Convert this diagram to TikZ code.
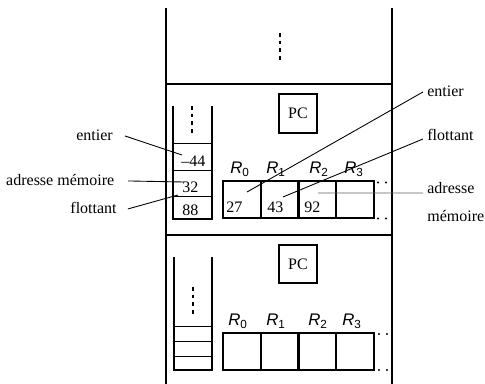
\documentclass[tikz,border=0pt]{standalone}
\usepackage{fontspec}
\setmainfont{Liberation Serif}
\setsansfont{Liberation Sans}
\begin{document}
\begin{tikzpicture}[x=0.625pt,y=-0.625pt,
  wall/.style={line width=1.4pt},
  thinline/.style={line width=0.6pt},
  cell/.style={draw, line width=1.4pt, minimum width=23.6pt, minimum height=23.1pt, inner sep=0pt, outer sep=0pt},
  pcbox/.style={draw, line width=1.4pt, minimum width=23.75pt, minimum height=24pt, inner sep=0pt, font=\fontsize{10}{12}\selectfont},
  txt/.style={font=\fontsize{10}{12}\selectfont, inner sep=0pt},
  reg/.style={font=\sffamily\fontsize{10.5}{12}\selectfont, inner sep=0pt},
  vdot/.style={line width=1.6pt, dash pattern=on 2.3pt off 2.5pt},
  ptr/.style={line width=0.55pt},
  dotmark/.style={circle, fill, inner sep=0pt, minimum size=1.3pt}
]
\useasboundingbox (0,0) rectangle (485,384);
% outer frame
\coordinate (tl) at (166,8);
\coordinate (bl) at (166,384);
\coordinate (tr) at (392,8);
\coordinate (br) at (392,384);
\coordinate (h1l) at (166,84);
\coordinate (h1r) at (392,84);
\coordinate (h2l) at (166,235);
\coordinate (h2r) at (392,235);
\draw[wall] (tl) -- (bl);
\draw[wall] (tr) -- (br);
\draw[wall] (h1l) -- (h1r);
\draw[wall] (h2l) -- (h2r);
\coordinate (d0a) at (280,33);
\coordinate (d0b) at (280,61);
\draw[vdot] (d0a) -- (d0b);

% ---------- block 1 ----------
\node[pcbox] (pc1) at (298,113.5) {PC};
% stack
\coordinate (s1a) at (173,106);
\coordinate (s1b) at (173,219);
\coordinate (s1c) at (212,219);
\coordinate (s1d) at (212,106);
\draw[wall] (s1a) -- (s1b) -- (s1c) -- (s1d);
\draw[thinline] (173,143) -- (212,143);
\draw[thinline] (173,170) -- (212,170);
\draw[thinline] (173,196) -- (212,196);
\coordinate (d1a) at (192,106);
\coordinate (d1b) at (192,133);
\draw[vdot] (d1a) -- (d1b);
\node[txt, anchor=base west] (v44) at (181,167) {–44};
\node[txt, anchor=base west] (v32) at (182,193) {32};
\node[txt, anchor=base west] (v88) at (182,216) {88};
% registers
\node[cell] (a0) at (241.9,199.5) {};
\node[cell] (a1) at (279.6,199.5) {};
\node[cell] (a2) at (317.4,199.5) {};
\node[cell] (a3) at (355.1,199.5) {};
\node[reg] (ra0) at (240,169) {\textit{R}\textsubscript{0}};
\node[reg] (ra1) at (276,169) {\textit{R}\textsubscript{1}};
\node[reg] (ra2) at (319,169) {\textit{R}\textsubscript{2}};
\node[reg] (ra3) at (354,169) {\textit{R}\textsubscript{3}};
\node[txt, anchor=base west] (n27) at (226,213) {27};
\node[txt, anchor=base west] (n43) at (267,213) {43};
\node[txt, anchor=base west] (n92) at (304,213) {92};
\node[dotmark] (e1) at (378,182.5) {};
\node[dotmark] (e2) at (386,182.5) {};
\node[dotmark] (e3) at (378,218.5) {};
\node[dotmark] (e4) at (386,218.5) {};

% left labels
\node[txt, anchor=east] (lent) at (113,135) {entier};
\node[txt, anchor=east] (ladr) at (114.5,180) {adresse mémoire};
\node[txt, anchor=east] (lflo) at (117,208) {flottant};
\coordinate (pent) at (182,155);
\coordinate (padr) at (184,182);
\coordinate (pflo) at (178,195);
\draw[ptr] ([xshift=7.5pt,yshift=-0.6pt]lent.east) -- (pent);
\draw[ptr] ([xshift=8.5pt,yshift=-0.6pt]ladr.east) -- (padr);
\draw[ptr] ([xshift=6.8pt,yshift=-0.6pt]lflo.east) -- (pflo);

% right labels
\node[txt, anchor=west] (rent) at (427,91) {entier};
\node[txt, anchor=west] (rflo) at (427,135) {flottant};
\node[txt, anchor=north west, align=left, font=\fontsize{10}{17.5}\selectfont] (radr) at (427,182) {adresse\\mémoire};
\coordinate (qent) at (247,192);
\coordinate (qflo) at (283,197);
\coordinate (qadr) at (318,193);
\draw[ptr] ([xshift=-2.5pt,yshift=-0.6pt]rent.west) -- (qent);
\draw[ptr] ([xshift=-2.5pt,yshift=-2.5pt]rflo.west) -- (qflo);
\draw[ptr, black!62] ([xshift=-2.5pt,yshift=-6.9pt]radr.north west) -- (qadr);

% ---------- block 2 ----------
\node[pcbox] (pc2) at (298,264) {PC};
\coordinate (s2a) at (174,257);
\coordinate (s2b) at (174,370);
\coordinate (s2c) at (212,370);
\coordinate (s2d) at (212,257);
\draw[wall] (s2a) -- (s2b) -- (s2c) -- (s2d);
\draw[thinline] (174,326) -- (212,326);
\draw[thinline] (174,341) -- (212,341);
\draw[thinline] (174,356) -- (212,356);
\coordinate (d2a) at (193,287);
\coordinate (d2b) at (193,314);
\draw[vdot] (d2a) -- (d2b);
\node[cell] (b0) at (241.9,351.5) {};
\node[cell] (b1) at (279.6,351.5) {};
\node[cell] (b2) at (317.4,351.5) {};
\node[cell] (b3) at (355.1,351.5) {};
\node[reg] (rb0) at (238,321) {\textit{R}\textsubscript{0}};
\node[reg] (rb1) at (276,321) {\textit{R}\textsubscript{1}};
\node[reg] (rb2) at (318,321) {\textit{R}\textsubscript{2}};
\node[reg] (rb3) at (352,321) {\textit{R}\textsubscript{3}};
\node[dotmark] (f1) at (379,334) {};
\node[dotmark] (f2) at (387,334) {};
\node[dotmark] (f3) at (379,370) {};
\node[dotmark] (f4) at (387,370) {};
\end{tikzpicture}
\end{document}
